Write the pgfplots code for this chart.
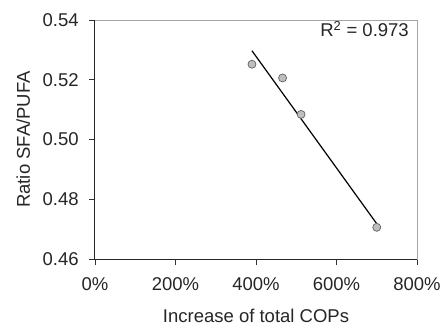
\documentclass[border=0pt]{standalone}
\usepackage{fontspec}
\setmainfont{Liberation Sans}
\usepackage{pgfplots}
\pgfplotsset{compat=1.18}
\begin{document}
\fontsize{18.5}{22}\selectfont
\begin{tikzpicture}
\begin{axis}[
  scale only axis,
  width=322pt, height=239pt,
  xmin=0, xmax=800, ymin=0.46, ymax=0.54,
  xtick={0,200,400,600,800},
  xticklabels={0\%,200\%,400\%,600\%,800\%},
  ytick={0.46,0.48,0.50,0.52,0.54},
  y tick label style={/pgf/number format/fixed,/pgf/number format/fixed zerofill,/pgf/number format/precision=2, xshift=-4pt},
  /pgf/number format/assume math mode=true,
  scaled y ticks=false,
  tick align=outside,
  major tick length=6pt,
  xtick pos=bottom, ytick pos=left,
  tick style={black!80, line width=0.7pt},
  axis line style={draw=gray!70, line width=1pt},
  xlabel={Increase of total COPs},
  ylabel={Ratio SFA/PUFA},
  x tick label style={yshift=-6pt},
  xlabel style={yshift=-6pt},
  ylabel style={yshift=0pt},
  tick label style={font=\fontsize{18.5}{22}\selectfont, text=black!85},
  label style={font=\fontsize{18.5}{22}\selectfont, text=black!85},
  after end axis/.code={
    \draw[black!85, line width=1pt] (rel axis cs:0,1) -- (rel axis cs:0,0) -- (rel axis cs:1,0);
    \coordinate (O) at (rel axis cs:0,0);
  },
]
\addplot[black, line width=1.2pt] coordinates {(390,0.5297) (700,0.4718)};
\addplot[only marks, mark=*, mark size=4pt, mark options={fill=gray!50, draw=gray!75!black, line width=0.7pt}]
  coordinates {(390,0.5252) (466,0.5206) (512,0.5084) (700,0.4706)};
\node[anchor=north east, inner sep=0pt, text=black!85] at ([xshift=-8pt,yshift=-1pt]rel axis cs:1,1) {R\textsuperscript{2} = 0.973};
\end{axis}
\pgfresetboundingbox
\path (O) ++(-95pt,-70pt) rectangle ++(441pt,329pt);
\end{tikzpicture}
\end{document}
